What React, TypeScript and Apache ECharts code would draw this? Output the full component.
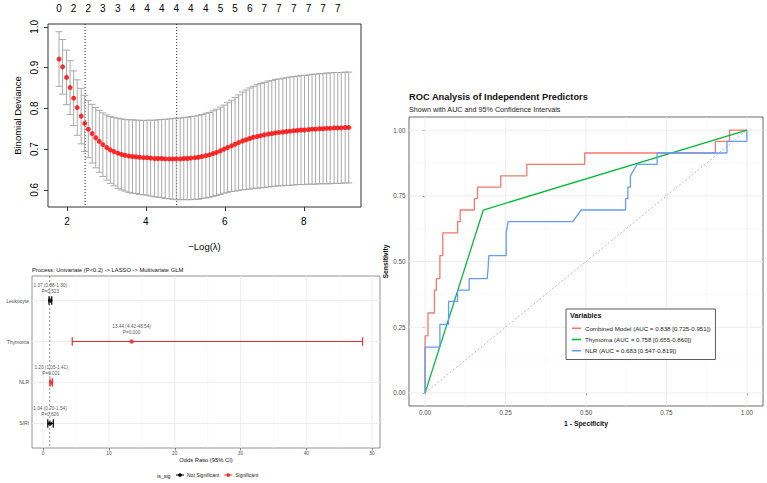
import React, { useEffect, useRef } from 'react';
import * as echarts from 'echarts';

const FONT = '"Liberation Sans", Arial, Helvetica, sans-serif';

// ---------- Panel A: LASSO cross-validation ----------
const lassoX = [1.80,1.89,1.99,2.08,2.17,2.26,2.36,2.45,2.54,2.64,2.73,2.82,2.91,3.01,3.10,3.19,3.29,3.38,3.47,3.57,3.66,3.75,3.84,3.94,4.03,4.12,4.22,4.31,4.40,4.49,4.59,4.68,4.77,4.87,4.96,5.05,5.14,5.24,5.33,5.42,5.52,5.61,5.70,5.79,5.89,5.98,6.07,6.17,6.26,6.35,6.45,6.54,6.63,6.72,6.82,6.91,7.00,7.10,7.19,7.28,7.37,7.47,7.56,7.65,7.75,7.84,7.93,8.02,8.12,8.21,8.30,8.40,8.49,8.58,8.67,8.77,8.86,8.95,9.05,9.14];
const cvMean = [0.921,0.902,0.876,0.851,0.825,0.802,0.781,0.763,0.749,0.738,
  0.728,0.719,0.711,0.704,0.698,0.694,0.690,0.687,0.685,0.683,
  0.682,0.681,0.680,0.679,0.679,0.678,0.677,0.677,0.677,0.676,
  0.676,0.676,0.676,0.676,0.677,0.677,0.678,0.679,0.680,0.682,
  0.684,0.686,0.689,0.692,0.696,0.700,0.704,0.708,0.712,0.716,
  0.720,0.723,0.726,0.729,0.731,0.733,0.735,0.737,0.738,0.740,
  0.741,0.742,0.743,0.744,0.745,0.746,0.747,0.747,0.748,0.749,
  0.749,0.750,0.750,0.751,0.751,0.752,0.752,0.752,0.753,0.753];
const cvSE = [0.067,0.067,0.067,0.066,0.067,0.068,0.068,0.069,0.070,0.072,
  0.074,0.076,0.078,0.080,0.082,0.084,0.086,0.087,0.088,0.089,
  0.090,0.090,0.091,0.091,0.092,0.093,0.094,0.095,0.096,0.097,
  0.098,0.099,0.100,0.100,0.101,0.101,0.102,0.102,0.103,0.103,
  0.104,0.104,0.105,0.106,0.107,0.108,0.110,0.112,0.115,0.117,
  0.120,0.122,0.124,0.125,0.127,0.128,0.129,0.130,0.130,0.131,
  0.131,0.132,0.132,0.133,0.133,0.133,0.134,0.134,0.134,0.135,
  0.135,0.135,0.135,0.136,0.136,0.136,0.136,0.136,0.136,0.136];
const nzeroLabels = [0,2,2,3,3,4,4,4,4,4,4,5,5,6,7,7,7,7,7,7];
const nzeroPositions = lassoX.filter((_, i) => i % 4 === 0);
const lambdaLines = [2.46, 4.78];
const lassoXTicks = [2, 4, 6, 8];
const lassoYTicks = [0.6, 0.7, 0.8, 0.9, 1.0];

// ---------- Panel B: forest plot ----------
const forestVars = ['SIRI', 'NLR', 'Thymoma', 'Leukocyte'];
const forestOR = [1.04, 1.20, 13.44, 1.07];
const forestLo = [0.70, 1.05, 4.42, 0.88];
const forestHi = [1.54, 1.41, 48.54, 1.30];
const forestP = ['0.626', '0.021', '0.000', '0.523'];
const forestSig = [false, true, true, false];
const forestXTicks = [0, 10, 20, 30, 40, 50];
const forestXMinor = [5, 15, 25, 35, 45];
const forestYTicks = [1, 2, 3, 4];

// ---------- Panel C: ROC ----------
const rocNames = [
  'Combined Model (AUC = 0.838 [0.725-0.951])',
  'Thymoma (AUC = 0.758 [0.655-0.860])',
  'NLR (AUC = 0.683 [0.547-0.819])',
];
const rocCombined = [[0,0],[0,0.217],[0.009,0.217],[0.009,0.304],[0.029,0.304],[0.029,0.391],[0.035,0.391],[0.035,0.435],[0.046,0.435],[0.046,0.522],[0.055,0.522],[0.055,0.609],[0.101,0.609],[0.101,0.652],[0.109,0.652],[0.109,0.696],[0.153,0.696],[0.153,0.739],[0.163,0.739],[0.163,0.783],[0.235,0.783],[0.235,0.826],[0.316,0.826],[0.316,0.870],[0.496,0.870],[0.496,0.913],[0.902,0.913],[0.902,0.957],[0.946,0.957],[0.946,1],[1,1]];
const rocThymoma = [[0,0],[0.181,0.696],[1,1]];
const rocNLR = [[0,0],[0,0.174],[0.046,0.174],[0.046,0.261],[0.073,0.261],[0.073,0.348],[0.101,0.348],[0.101,0.391],[0.137,0.391],[0.137,0.435],[0.193,0.435],[0.196,0.478],[0.198,0.522],[0.252,0.522],[0.252,0.609],[0.258,0.652],[0.459,0.652],[0.485,0.696],[0.623,0.696],[0.623,0.739],[0.630,0.739],[0.630,0.783],[0.638,0.783],[0.638,0.826],[0.659,0.870],[0.721,0.870],[0.721,0.913],[0.938,0.913],[0.938,0.957],[1,0.957],[1,1]];
const rocDiag = [[0,0],[1,1]];
const rocColors = ['#F8766D', '#00BA38', '#619CFF'];
const rocTicks = [0, 0.25, 0.5, 0.75, 1];
const rocMinor = [0.125, 0.375, 0.625, 0.875];

const RED = '#ee2c2c';

function gridLines(xIdx: number, yIdx: number, vert: number[], horiz: number[], color: string, width: number, dash?: number[]) {
  return {
    type: 'custom',
    xAxisIndex: xIdx,
    yAxisIndex: yIdx,
    silent: true,
    z: 1,
    data: [...vert.map((v) => [v, 0]), ...horiz.map((v) => [v, 1])],
    renderItem: (params: any, api: any) => {
      const cs = params.coordSys;
      const v = api.value(0);
      const dir = api.value(1);
      const style: any = { stroke: color, lineWidth: width };
      if (dash) style.lineDash = dash;
      if (dir === 0) {
        const x = api.coord([v, 0])[0];
        return { type: 'line', shape: { x1: x, y1: cs.y, x2: x, y2: cs.y + cs.height }, style };
      }
      const y = api.coord([0, v])[1];
      return { type: 'line', shape: { x1: cs.x, y1: y, x2: cs.x + cs.width, y2: y }, style };
    },
  };
}

function forestBars(name: string, color: string, sig: boolean) {
  const data: number[][] = [];
  forestVars.forEach((_, i) => {
    if (forestSig[i] === sig) data.push([forestLo[i], forestHi[i], i + 1]);
  });
  return {
    type: 'custom',
    name,
    xAxisIndex: 2,
    yAxisIndex: 1,
    z: 3,
    itemStyle: { color },
    encode: { x: [0, 1], y: 2 },
    data,
    renderItem: (_p: any, api: any) => {
      const a = api.coord([api.value(0), api.value(2)]);
      const b = api.coord([api.value(1), api.value(2)]);
      const h = 4.2;
      const st = { stroke: color, lineWidth: 1.2 };
      return {
        type: 'group',
        children: [
          { type: 'line', shape: { x1: a[0], y1: a[1], x2: b[0], y2: b[1] }, style: st },
          { type: 'line', shape: { x1: a[0], y1: a[1] - h, x2: a[0], y2: a[1] + h }, style: st },
          { type: 'line', shape: { x1: b[0], y1: b[1] - h, x2: b[0], y2: b[1] + h }, style: st },
        ],
      };
    },
  };
}

function forestPoints(name: string, color: string, sig: boolean) {
  const data: any[] = [];
  forestVars.forEach((_, i) => {
    if (forestSig[i] === sig) {
      data.push([
        forestOR[i],
        i + 1,
        `${forestOR[i].toFixed(2)} (${forestLo[i].toFixed(2)}-${forestHi[i].toFixed(2)})\nP=${forestP[i]}`,
      ]);
    }
  });
  return {
    type: 'scatter',
    name,
    xAxisIndex: 2,
    yAxisIndex: 1,
    z: 4,
    symbolSize: 4.5,
    itemStyle: { color },
    data,
    label: {
      show: true,
      position: 'top',
      distance: 3.2,
      formatter: (p: any) => p.data[2],
      fontFamily: FONT,
      fontSize: 4.7,
      lineHeight: 6.5,
      color: '#222',
    },
  };
}

const legendIcon = 'path://M0,4.4 L12,4.4 L12,5.6 L0,5.6 Z M6,2.2 A2.8,2.8,0,1,1,5.99,2.2 Z';

export default function App() {
  const ref = useRef<HTMLDivElement>(null);
  useEffect(() => {
    if (!ref.current) return;
    const chart = echarts.init(ref.current, undefined, { renderer: 'svg' });

    const errData = lassoX.map((x, i) => [x, cvMean[i] - cvSE[i], cvMean[i] + cvSE[i]]);
    const meanData = lassoX.map((x, i) => [x, cvMean[i]]);

    const lassoAxisLabel = { fontFamily: FONT, fontSize: 10, color: '#000' };
    const ggTick = { show: true, length: 2.5, lineStyle: { color: '#333', width: 0.6 } };
    const ggLabel = { fontFamily: FONT, color: '#4d4d4d' };

    const option: any = {
      animation: false,
      backgroundColor: '#fff',
      textStyle: { fontFamily: FONT },
      title: [
        { text: 'ROC Analysis of Independent Predictors', left: 409, top: 91.5, padding: 0,
          textStyle: { fontFamily: FONT, fontSize: 9.3, fontWeight: 'bold', color: '#111', lineHeight: 11 } },
        { text: 'Shown with AUC and 95% Confidence Intervals', left: 409, top: 104.8, padding: 0,
          textStyle: { fontFamily: FONT, fontSize: 7.2, fontWeight: 'normal', color: '#222', lineHeight: 9 } },
        { text: 'Variables', left: 570, top: 311, padding: 0, z: 10,
          textStyle: { fontFamily: FONT, fontSize: 7.2, fontWeight: 'bold', color: '#111', lineHeight: 9 } },
        { text: 'Process: Univariate (P<0.2) -> LASSO -> Multivariate GLM', left: 32, top: 266, padding: 0,
          textStyle: { fontFamily: FONT, fontSize: 5.8, fontWeight: 'normal', color: '#111', lineHeight: 8 } },
        { text: 'is_sig', left: 157, top: 472.5, padding: 0,
          textStyle: { fontFamily: FONT, fontSize: 5.3, fontWeight: 'normal', color: '#111', lineHeight: 7 } },
      ],
      legend: [
        {
          data: [
            { name: 'Not Significant', icon: legendIcon, itemStyle: { color: '#000' } },
            { name: 'Significant', icon: legendIcon, itemStyle: { color: RED } },
          ],
          left: 176,
          top: 472.5,
          padding: 0,
          itemWidth: 8,
          itemHeight: 6,
          itemGap: 5,
          selectedMode: false,
          textStyle: { fontFamily: FONT, fontSize: 5.0, color: '#222', padding: [0, 0, 0, -2] },
        },
        {
          data: rocNames,
          orient: 'vertical',
          left: 566,
          top: 309,
          padding: [15.5, 5, 5, 6],
          itemGap: 3.6,
          itemWidth: 9,
          itemHeight: 1.6,
          icon: 'rect',
          selectedMode: false,
          backgroundColor: '#fff',
          borderColor: '#333',
          borderWidth: 0.8,
          borderRadius: 0,
          textStyle: { fontFamily: FONT, fontSize: 6.15, color: '#222', lineHeight: 7.6, padding: [0, 0, 0, -1] },
        },
      ],
      grid: [
        { left: 48, top: 24, width: 313, height: 183, show: true, borderColor: '#333', borderWidth: 1, backgroundColor: 'transparent' },
        { left: 32, top: 276, width: 348, height: 172, show: true, borderColor: '#777', borderWidth: 0.8, backgroundColor: 'transparent' },
        { left: 409, top: 117, width: 354, height: 289, show: true, borderColor: '#444', borderWidth: 0.8, backgroundColor: 'transparent' },
      ],
      xAxis: [
        {
          gridIndex: 0, type: 'value', min: 1.52, max: 9.45, position: 'bottom',
          axisLine: { show: false },
          axisTick: { show: true, length: 4, customValues: lassoXTicks, lineStyle: { color: '#333' } },
          axisLabel: { ...lassoAxisLabel, customValues: lassoXTicks, margin: 9 },
          splitLine: { show: false },
          name: '\u2212Log(\u03bb)', nameLocation: 'middle', nameGap: 34,
          nameTextStyle: { fontFamily: FONT, fontSize: 9.5, color: '#000' },
        },
        {
          gridIndex: 0, type: 'value', min: 1.52, max: 9.45, position: 'top',
          axisLine: { show: false },
          axisTick: { show: false, customValues: nzeroPositions },
          axisLabel: {
            ...lassoAxisLabel, customValues: nzeroPositions, margin: 11,
            formatter: (v: number) => {
              let best = 0;
              nzeroPositions.forEach((p, i) => { if (Math.abs(p - v) < Math.abs(nzeroPositions[best] - v)) best = i; });
              return String(nzeroLabels[best]);
            },
          },
          splitLine: { show: false },
        },
        {
          gridIndex: 1, type: 'value', min: -1.7, max: 51.2,
          axisLine: { show: false },
          axisTick: { ...ggTick, customValues: forestXTicks },
          axisLabel: { ...ggLabel, fontSize: 4.8, customValues: forestXTicks, margin: 2.5 },
          splitLine: { show: false },
          name: 'Odds Ratio (95% CI)', nameLocation: 'middle', nameGap: 9,
          nameTextStyle: { fontFamily: FONT, fontSize: 5.8, color: '#111' },
        },
        {
          gridIndex: 2, type: 'value', min: -0.05, max: 1.05,
          axisLine: { show: false },
          axisTick: { ...ggTick, customValues: rocTicks },
          axisLabel: { ...ggLabel, fontSize: 6.3, customValues: rocTicks, margin: 3.5, formatter: (v: number) => v.toFixed(2) },
          splitLine: { show: false },
          name: '1 - Specificity', nameLocation: 'middle', nameGap: 9,
          nameTextStyle: { fontFamily: FONT, fontSize: 6.8, fontWeight: 'bold', color: '#111' },
        },
      ],
      yAxis: [
        {
          gridIndex: 0, type: 'value', min: 0.558, max: 1.007,
          axisLine: { show: false },
          axisTick: { show: true, length: 4, customValues: lassoYTicks, lineStyle: { color: '#333' } },
          axisLabel: { ...lassoAxisLabel, customValues: lassoYTicks, rotate: 90, margin: 9, formatter: (v: number) => v.toFixed(1) },
          splitLine: { show: false },
          name: 'Binomial Deviance', nameLocation: 'middle', nameGap: 26,
          nameTextStyle: { fontFamily: FONT, fontSize: 9.5, color: '#000' },
        },
        {
          gridIndex: 1, type: 'value', min: 0.4, max: 4.6,
          axisLine: { show: false },
          axisTick: { ...ggTick, customValues: forestYTicks },
          axisLabel: { ...ggLabel, fontSize: 5.0, customValues: forestYTicks, margin: 3,
            formatter: (v: number) => forestVars[Math.round(v) - 1] },
          splitLine: { show: false },
        },
        {
          gridIndex: 2, type: 'value', min: -0.05, max: 1.05,
          axisLine: { show: false },
          axisTick: { ...ggTick, customValues: rocTicks },
          axisLabel: { ...ggLabel, fontSize: 6.3, customValues: rocTicks, margin: 3.5, formatter: (v: number) => v.toFixed(2) },
          splitLine: { show: false },
          name: 'Sensitivity', nameLocation: 'middle', nameGap: 12.5,
          nameTextStyle: { fontFamily: FONT, fontSize: 6.8, fontWeight: 'bold', color: '#111' },
        },
      ],
      series: [
        // LASSO error bars
        {
          type: 'custom', xAxisIndex: 0, yAxisIndex: 0, z: 2, silent: true,
          encode: { x: 0, y: [1, 2] },
          data: errData,
          renderItem: (_p: any, api: any) => {
            const x = api.value(0);
            const lo = api.coord([x, api.value(1)]);
            const hi = api.coord([x, api.value(2)]);
            const hw = 3.5;
            const st = { stroke: '#a9a9a9', lineWidth: 1 };
            return {
              type: 'group',
              children: [
                { type: 'line', shape: { x1: lo[0], y1: lo[1], x2: hi[0], y2: hi[1] }, style: st },
                { type: 'line', shape: { x1: lo[0] - hw, y1: lo[1], x2: lo[0] + hw, y2: lo[1] }, style: st },
                { type: 'line', shape: { x1: hi[0] - hw, y1: hi[1], x2: hi[0] + hw, y2: hi[1] }, style: st },
              ],
            };
          },
        },
        gridLines(0, 0, lambdaLines, [], '#222', 1, [1, 2]),
        {
          type: 'scatter', xAxisIndex: 0, yAxisIndex: 0, z: 4, silent: true,
          symbolSize: 5, itemStyle: { color: '#ff0000' },
          data: meanData,
        },
        // forest grid
        gridLines(2, 1, forestXMinor, [], '#f4f4f4', 0.5),
        gridLines(2, 1, forestXTicks, forestYTicks, '#ebebeb', 0.9),
        gridLines(2, 1, [1], [], '#777', 0.8, [2, 2]),
        forestBars('Not Significant', '#000', false),
        forestBars('Significant', RED, true),
        forestPoints('Not Significant', '#000', false),
        forestPoints('Significant', RED, true),
        // ROC grid
        gridLines(3, 2, rocMinor, rocMinor, '#f4f4f4', 0.5),
        gridLines(3, 2, rocTicks, rocTicks, '#ebebeb', 0.9),
        {
          type: 'line', xAxisIndex: 3, yAxisIndex: 2, silent: true, z: 2, showSymbol: false,
          data: rocDiag, lineStyle: { color: '#999', width: 0.7, type: [2, 2] },
        },
        ...[rocCombined, rocThymoma, rocNLR].map((d, i) => ({
          type: 'line', name: rocNames[i], xAxisIndex: 3, yAxisIndex: 2, z: 3 + i, silent: true,
          showSymbol: false, symbol: 'none', data: d,
          itemStyle: { color: rocColors[i] },
          lineStyle: { color: rocColors[i], width: 1.3 },
        })),
      ],
    };
    chart.setOption(option);
    return () => chart.dispose();
  }, []);
  return (
    <div
      ref={ref}
      style={{ position: 'fixed', left: 0, top: 0, width: 767, height: 483, background: '#fff' }}
    />
  );
}
